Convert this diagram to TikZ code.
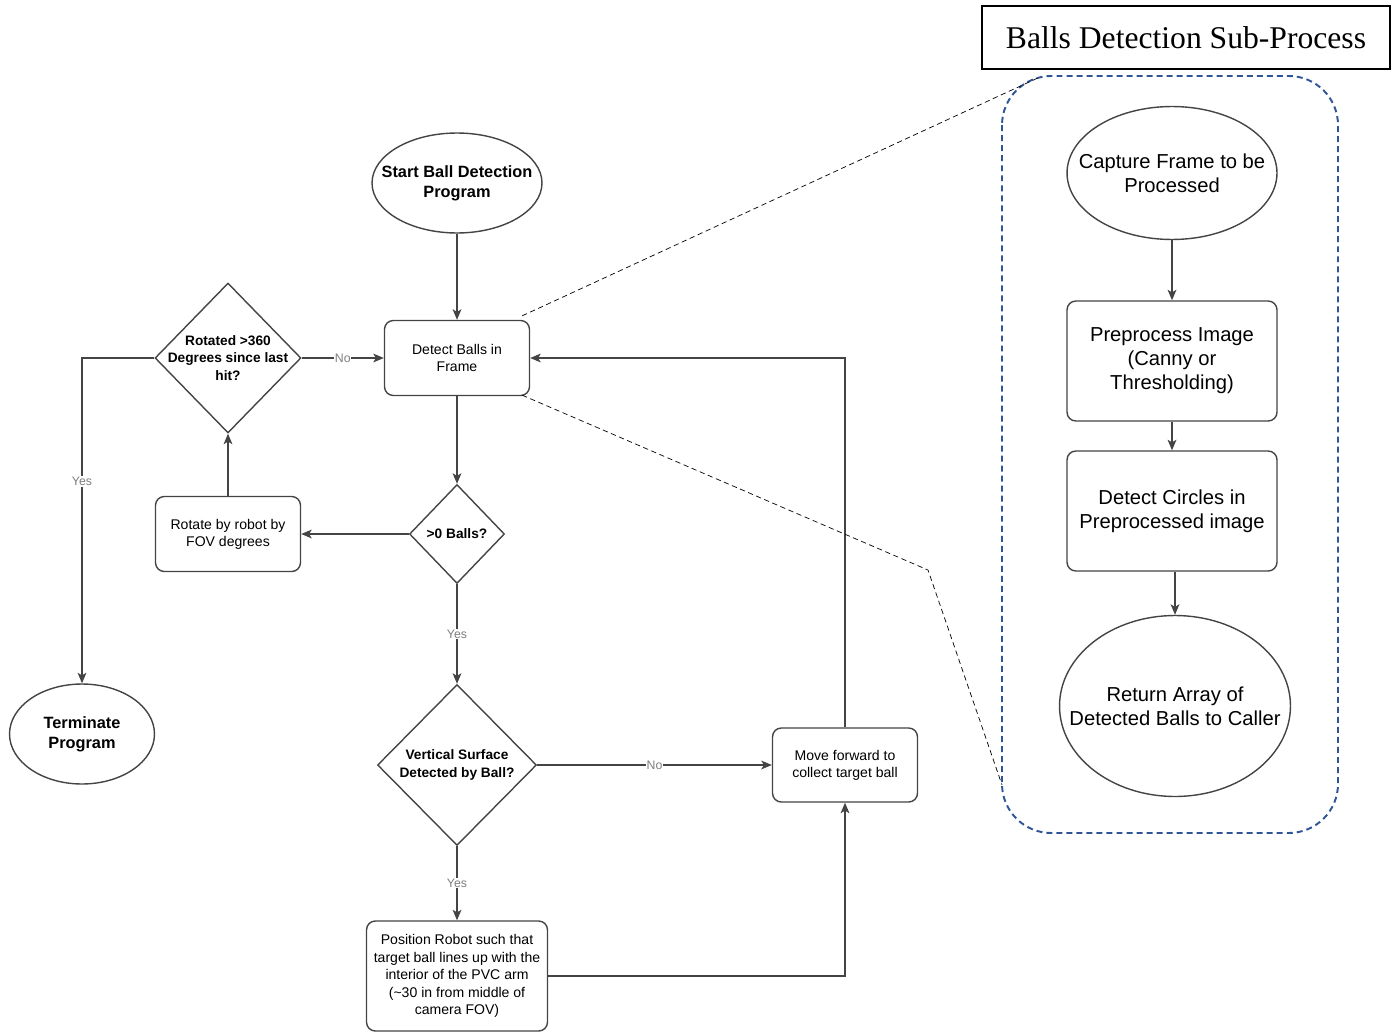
\documentclass[tikz,border=0pt]{standalone}
\usepackage{fontspec}
\setmainfont{Liberation Sans}
\newfontfamily\titlefont{Liberation Serif}
\usetikzlibrary{shapes.geometric,arrows.meta}

\definecolor{linegray}{HTML}{444444}
\definecolor{labelgray}{HTML}{7F7F7F}
\definecolor{subblue}{HTML}{2F5597}

\begin{document}
\begin{tikzpicture}[x=0.02cm, y=-0.02cm, line width=0.8pt,
	every node/.style={align=center},
	proc/.style={draw=linegray, rectangle, rounded corners=5pt, minimum width=2.9cm, minimum height=1.5cm, inner sep=1pt, font=\fontsize{8}{9.6}\selectfont},
	subproc/.style={proc, minimum width=4.2cm, minimum height=2.4cm, font=\fontsize{11.5}{13.6}\selectfont},
	startstop/.style={draw=linegray, ellipse, inner sep=0pt},
	decision/.style={draw=linegray, diamond, inner sep=0pt},
	bigtext/.style={font=\fontsize{9.3}{11.3}\selectfont\bfseries},
	subtext/.style={font=\fontsize{11.5}{13.6}\selectfont},
	dtext/.style={font=\fontsize{7.8}{10}\selectfont\bfseries},
	flow/.style={draw=linegray, -{Stealth[length=6pt,width=5pt,inset=1.5pt]}},
	answer/.style={font=\fontsize{7}{7.5}\selectfont, text=labelgray, fill=white, inner sep=0.5pt},
	zoomline/.style={thin, dash pattern=on 3pt off 2pt}
]
	\useasboundingbox (0,0) rectangle (1392,1034);
	%\draw [help lines, lightgray, step=100] (0,0) grid (1392,1034);

	% main program
	\node (start) [startstop, minimum width=3.4cm, minimum height=2cm, label={[bigtext]center:Start Ball Detection\\Program}] at (457,183) {};
	\node (detect) [proc] at (457,358) {Detect Balls in\\Frame};
	\node (rotq) [decision, minimum width=2.92cm, minimum height=3cm, label={[dtext]center:Rotated >360\\Degrees since last\\hit?}] at (228,358) {};
	\node (ballq) [decision, minimum width=1.9cm, minimum height=1.98cm, label={[dtext]center:>0 Balls?}] at (457,534) {};
	\node (rotate) [proc] at (228,534) {Rotate by robot by\\FOV degrees};
	\node (term) [startstop, minimum width=2.9cm, minimum height=2cm, label={[bigtext]center:Terminate\\Program}] at (82,734) {};
	\node (wallq) [decision, minimum width=3.18cm, minimum height=3.22cm, label={[dtext]center:Vertical Surface\\Detected by Ball?}] at (457,765) {};
	\node (move) [proc, minimum height=1.48cm] at (845,765) {Move forward to\\collect target ball};
	\node (place) [proc, minimum width=3.62cm, minimum height=2.2cm, font=\fontsize{8}{9.9}\selectfont] at (457,976)
		{Position Robot such that\\target ball lines up with the\\interior of the PVC arm\\(\textasciitilde30 in from middle of\\camera FOV)};

	\draw[flow] (start) -- (detect);
	\draw[flow] (detect) -- (ballq);
	\draw[flow] (ballq) -- (rotate);
	\draw[flow] (rotate) -- (rotq);
	\draw[flow] (rotq) -- node[answer] {No} (detect);
	\draw[flow] (rotq.west) -| node[answer, pos=0.69] {Yes} (term.north);
	\draw[flow] (ballq) -- node[answer] {Yes} (wallq);
	\draw[flow] (wallq) -- node[answer] {No} (move);
	\draw[flow] (wallq) -- node[answer] {Yes} (place);
	\draw[flow] (place.east) -| (move.south);
	\draw[flow] (move.north) |- (detect.east);

	% sub-process
	\node (title) [draw=black, minimum width=8.16cm, minimum height=1.26cm, inner sep=0pt, font=\titlefont\fontsize{18}{20}\selectfont] at (1186,37.5) {Balls Detection Sub-Process};
	\draw[subblue, line width=1.1pt, dash pattern=on 3.4pt off 2.3pt, rounded corners=28pt] (1002,76) rectangle (1338,833);

	\node (capture) [startstop, minimum width=4.2cm, minimum height=2.66cm, label={[subtext]center:Capture Frame to be\\Processed}] at (1172,173) {};
	\node (prep) [subproc] at (1172,361) {Preprocess Image\\(Canny or\\Thresholding)};
	\node (circles) [subproc] at (1172,511) {Detect Circles in\\Preprocessed image};
	\node (ret) [startstop, minimum width=4.62cm, minimum height=3.62cm, label={[subtext]center:Return Array of\\Detected Balls to Caller}] at (1175,706) {};

	\draw[flow] (capture) -- (prep);
	\draw[flow] (prep) -- (circles);
	\draw[flow] (circles.south -| ret.north) -- (ret.north);

	% zoom lines
	\coordinate (ztop) at (1040,77);
	\coordinate (zbend) at (928,570);
	\coordinate (zbot) at (1002,785);
	\draw[zoomline] ([shift={(-8,-4)}]detect.north east) -- (ztop);
	\draw[zoomline] ([shift={(-8,-1)}]detect.south east) -- (zbend) -- (zbot);

\end{tikzpicture}
\end{document}
